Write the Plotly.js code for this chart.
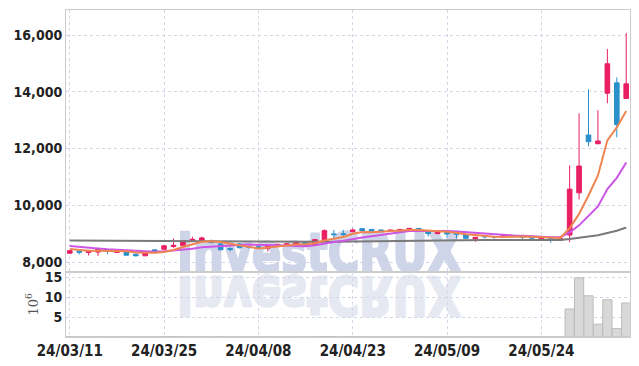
<!DOCTYPE html>
<html><head><meta charset="utf-8">
<script src="https://cdn.plot.ly/plotly-3.0.1.min.js"></script>
<style>
html,body{margin:0;padding:0;background:#fff;}
#wrap{position:relative;width:639px;height:366px;overflow:hidden;background:#fff;}
#wm{position:absolute;left:0;top:0;}
#chart{position:absolute;left:0;top:0;width:639px;height:366px;}
</style></head><body>
<div id="wrap">
<svg id="wm" width="639" height="366" xmlns="http://www.w3.org/2000/svg">
  <text x="177" y="271" font-family="DejaVu Sans" font-weight="bold" font-size="54" fill="#cfd5e8" stroke="#cfd5e8" stroke-width="2.5" stroke-linejoin="round" textLength="284" lengthAdjust="spacingAndGlyphs">InvestCRUX</text>
  <g transform="translate(0,548) scale(1,-1)">
    <text x="177" y="271" font-family="DejaVu Sans" font-weight="bold" font-size="54" fill="#e6e8f2" stroke="#e6e8f2" stroke-width="2.5" stroke-linejoin="round" textLength="284" lengthAdjust="spacingAndGlyphs">InvestCRUX</text>
  </g>
</svg>
<div id="chart"></div>
</div>
<script>
const dates = ['24/03/11','24/03/12','24/03/13','24/03/14','24/03/15','24/03/18','24/03/19','24/03/20','24/03/21','24/03/22',
'24/03/25','24/03/26','24/03/27','24/03/28','24/03/29','24/04/01','24/04/02','24/04/03','24/04/04','24/04/05',
'24/04/08','24/04/09','24/04/11','24/04/12','24/04/15','24/04/16','24/04/17','24/04/18','24/04/19','24/04/22',
'24/04/23','24/04/24','24/04/25','24/04/26','24/04/29','24/04/30','24/05/02','24/05/03','24/05/07','24/05/08',
'24/05/09','24/05/10','24/05/13','24/05/14','24/05/16','24/05/17','24/05/20','24/05/21','24/05/22','24/05/23',
'24/05/24','24/05/27','24/05/28','24/05/29','24/05/30','24/05/31','24/06/03','24/06/04','24/06/05','24/06/07'];

const openP = [8310,8380,8335,8350,8430,8333,8358,8275,8218,8428,
8450,8544,8590,8720,8765,8720,8640,8475,8640,8545,
8540,8485,8570,8590,8615,8720,8600,8755,8990,8995,
9070,9175,9150,9130,9075,9095,9130,9185,9060,9000,
9035,9000,8965,8815,8900,8895,8895,8940,8885,8870,
8800,8870,8770,8950,10438,12476,12170,13949,14314,13760];
const highP = [8420,8400,8410,8450,8445,8430,8370,8290,8370,8440,
8580,8825,8760,8890,8895,8790,8650,8520,8650,8580,
8570,8620,8640,8660,8700,8730,8800,9150,9130,9130,
9185,9190,9160,9140,9140,9160,9200,9195,9070,9080,
9045,9035,8975,8880,8940,8920,8950,8950,8895,8880,
8870,8880,8850,11404,13242,14090,13348,15504,14503,16069];
const lowP = [8300,8263,8228,8218,8275,8320,8230,8200,8210,8310,
8440,8500,8580,8710,8755,8660,8420,8370,8490,8470,
8480,8370,8560,8580,8600,8570,8590,8720,8825,8860,
9045,9090,9050,9040,9060,9085,9120,9050,8895,8990,
8860,8825,8830,8710,8825,8820,8885,8860,8795,8760,
8790,8680,8760,8700,10203,12076,12147,13596,12394,13760];
const closeP = [8400,8345,8400,8440,8380,8414,8240,8218,8358,8380,
8570,8590,8744,8800,8850,8685,8430,8440,8500,8520,
8510,8605,8625,8640,8685,8580,8790,9105,8965,8975,
9130,9105,9090,9070,9130,9150,9185,9105,9000,9070,
8990,8985,8835,8870,8890,8885,8940,8900,8865,8845,
8860,8830,8840,10568,11381,12241,12264,14986,12842,14279];

const ma5 = [8460,8420,8400,8400,8393,8396,8375,8338,8322,8322,
8353,8423,8528,8617,8711,8734,8702,8641,8581,8515,
8480,8515,8552,8580,8613,8627,8664,8760,8825,8883,
8993,9056,9053,9074,9105,9109,9125,9128,9114,9102,
9070,9030,8976,8950,8914,8893,8884,8897,8896,8887,
8882,8860,8848,9189,9696,10344,11051,12288,12743,13322];
const ma10 = [8560,8540,8510,8480,8450,8430,8410,8390,8370,8358,
8375,8400,8434,8470,8517,8544,8563,8585,8599,8613,
8607,8609,8597,8581,8564,8554,8590,8656,8703,8748,
8810,8860,8907,8950,8994,9051,9091,9091,9094,9104,
9090,9078,9052,9032,9008,8982,8957,8937,8923,8901,
8888,8872,8873,9043,9292,9628,9960,10569,10967,11510];
const ma60 = [8760,8758,8755,8752,8750,8747,8744,8740,8737,8734,
8731,8728,8726,8724,8722,8720,8717,8714,8711,8709,
8707,8706,8705,8704,8704,8705,8708,8713,8718,8723,
8728,8733,8738,8742,8747,8751,8755,8758,8761,8764,
8767,8769,8770,8771,8772,8773,8774,8775,8776,8777,
8778,8779,8780,8810,8850,8895,8940,9020,9100,9215];

const volumeM = [0.04,0.03,0.03,0.04,0.03,0.03,0.04,0.03,0.03,0.03,
0.05,0.06,0.05,0.04,0.04,0.03,0.05,0.03,0.03,0.03,
0.03,0.04,0.03,0.03,0.04,0.04,0.05,0.08,0.06,0.04,
0.05,0.04,0.03,0.03,0.03,0.04,0.04,0.04,0.03,0.03,
0.03,0.03,0.04,0.03,0.03,0.03,0.02,0.03,0.02,0.02,
0.02,0.03,0.02,7.0,14.8,10.3,3.2,9.3,2.1,8.5];

const tickDates = ['24/03/11','24/03/25','24/04/08','24/04/23','24/05/09','24/05/24'];
const priceTicks = [8000,10000,12000,14000,16000];
const volTicks = [5,10,15];

const FONT = 'Liberation Sans Narrow, DejaVu Sans Condensed, Arial Narrow, sans-serif';
const RED = '#e91e63', BLUE = '#2990cc';
const GRID = '#d3d6e6', LINE = '#cccccc';

const traces = [
  {type:'bar', x:dates, y:volumeM, xaxis:'x', yaxis:'y2',
   marker:{color:'#d8d8d8', line:{color:'#bcbcbc', width:1}}, hoverinfo:'skip'},
  {type:'scatter', mode:'lines', x:dates, y:ma60, xaxis:'x', yaxis:'y',
   line:{color:'#7a7a7a', width:2}, hoverinfo:'skip'},
  {type:'scatter', mode:'lines', x:dates, y:ma10, xaxis:'x', yaxis:'y',
   line:{color:'#cc55e6', width:2}, hoverinfo:'skip'},
  {type:'scatter', mode:'lines', x:dates, y:ma5, xaxis:'x', yaxis:'y',
   line:{color:'#ef8550', width:2}, hoverinfo:'skip'},
  {type:'candlestick', x:dates, open:openP, high:highP, low:lowP, close:closeP,
   xaxis:'x', yaxis:'y', whiskerwidth:0,
   increasing:{line:{color:RED, width:1}, fillcolor:RED},
   decreasing:{line:{color:BLUE, width:1}, fillcolor:BLUE}, hoverinfo:'skip'}
];

const TF = {family:FONT, size:14, color:'#222', weight:'bold'};
const layout = {
  width:639, height:366,
  margin:{l:66, r:9, t:10, b:29},
  paper_bgcolor:'rgba(0,0,0,0)', plot_bgcolor:'rgba(0,0,0,0)',
  showlegend:false, bargap:0.02,
  font:{family:FONT, size:14, color:'#222'},
  xaxis:{type:'category', range:[-0.4,59.4], tickvals:tickDates, ticktext:tickDates,
    showgrid:true, gridcolor:GRID, griddash:'dot', gridwidth:1,
    showline:true, linecolor:LINE, linewidth:1, mirror:'all', ticks:'',
    anchor:'y2', rangeslider:{visible:false},
    tickfont:{family:FONT, size:15, color:'#222', weight:'bold'}},
  yaxis:{domain:[0.2,1], range:[7662,16881], tickvals:priceTicks, tickformat:',',
    showgrid:true, gridcolor:GRID, griddash:'dot', gridwidth:1,
    showline:true, linecolor:LINE, linewidth:1, mirror:true, zeroline:false, ticks:'',
    tickfont:TF},
  yaxis2:{domain:[0,0.2], range:[0,16.35], tickvals:volTicks,
    showgrid:true, gridcolor:GRID, griddash:'dot', gridwidth:1,
    showline:true, linecolor:LINE, linewidth:1, mirror:true, zeroline:false, ticks:'',
    tickfont:TF,
    title:{text:'10<sup>6</sup>', font:{family:'DejaVu Serif, serif', size:13, color:'#555'}, standoff:3}}
};

Plotly.newPlot('chart', traces, layout, {displayModeBar:false, staticPlot:true});
</script>
</body></html>
